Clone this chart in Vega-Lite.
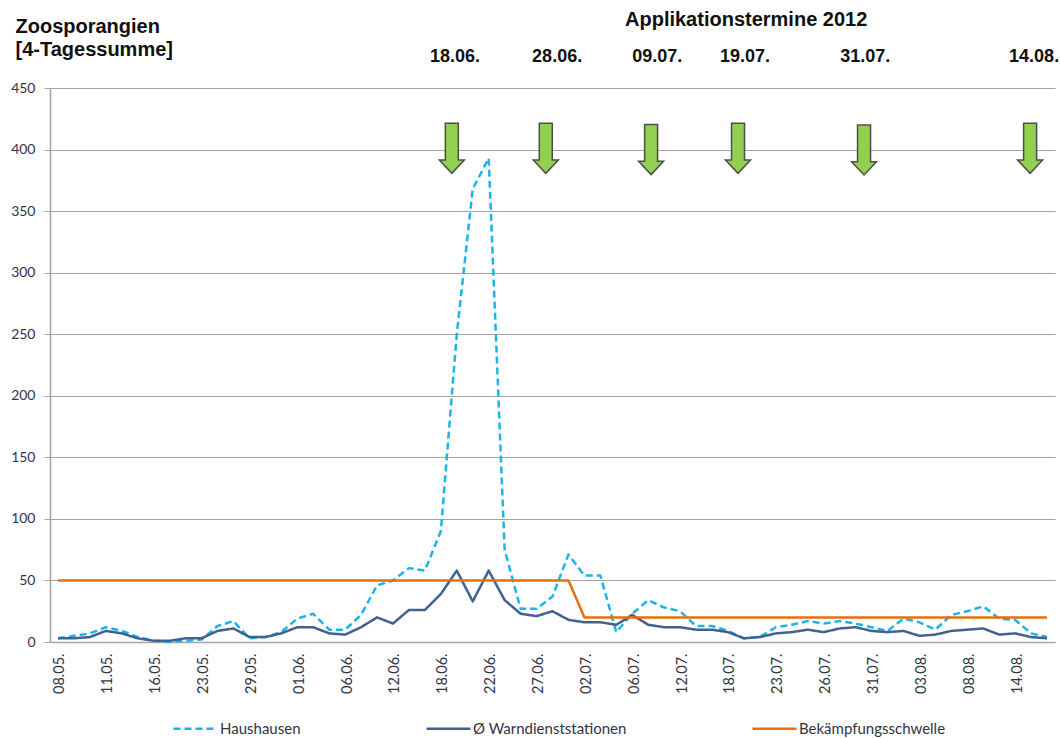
{
"$schema":"https://vega.github.io/schema/vega-lite/v6.json",
"width":1005,"height":554,
"autosize":"none",
"padding":{"left":50,"top":88,"right":5,"bottom":96},
"background":"white",
"title":{"text":"Applikationstermine 2012","anchor":"start","frame":"group","dx":575,"dy":14,"offset":0,"font":"Liberation Sans","fontSize":20,"fontWeight":"bold","color":"#111111"},
"datasets":{
"s":[
{"d":"08.05.","h":3,"w":3,"b":50},{"d":"09.05.","h":5,"w":3,"b":50},{"d":"10.05.","h":7,"w":4,"b":50},{"d":"11.05.","h":12,"w":9,"b":50},{"d":"14.05.","h":9,"w":7,"b":50},{"d":"15.05.","h":4,"w":3,"b":50},{"d":"16.05.","h":1,"w":1,"b":50},{"d":"18.05.","h":0,"w":1,"b":50},{"d":"21.05.","h":1,"w":3,"b":50},{"d":"23.05.","h":2,"w":3,"b":50},{"d":"24.05.","h":13,"w":9,"b":50},{"d":"25.05.","h":17,"w":11,"b":50},{"d":"29.05.","h":3,"w":4,"b":50},{"d":"30.05.","h":4,"w":4,"b":50},{"d":"31.05.","h":8,"w":7,"b":50},{"d":"01.06.","h":19,"w":12,"b":50},{"d":"04.06.","h":23,"w":12,"b":50},{"d":"05.06.","h":10,"w":7,"b":50},{"d":"06.06.","h":10,"w":6,"b":50},{"d":"08.06.","h":22,"w":12,"b":50},{"d":"11.06.","h":46,"w":20,"b":50},{"d":"12.06.","h":50,"w":15,"b":50},{"d":"13.06.","h":60,"w":26,"b":50},{"d":"15.06.","h":58,"w":26,"b":50},{"d":"18.06.","h":90,"w":39,"b":50},{"d":"19.06.","h":250,"w":58,"b":50},{"d":"20.06.","h":368,"w":33,"b":50},{"d":"22.06.","h":393,"w":58,"b":50},{"d":"25.06.","h":75,"w":34,"b":50},{"d":"26.06.","h":27,"w":23,"b":50},{"d":"27.06.","h":27,"w":21,"b":50},{"d":"28.06.","h":37,"w":25,"b":50},{"d":"29.06.","h":71,"w":18,"b":50},{"d":"02.07.","h":54,"w":16,"b":20},{"d":"03.07.","h":54,"w":16,"b":20},{"d":"05.07.","h":8,"w":14,"b":20},{"d":"06.07.","h":23,"w":22,"b":20},{"d":"09.07.","h":34,"w":14,"b":20},{"d":"10.07.","h":28,"w":12,"b":20},{"d":"12.07.","h":25,"w":12,"b":20},{"d":"13.07.","h":13,"w":10,"b":20},{"d":"16.07.","h":13,"w":10,"b":20},{"d":"18.07.","h":9,"w":8,"b":20},{"d":"19.07.","h":3,"w":3,"b":20},{"d":"20.07.","h":4,"w":4,"b":20},{"d":"23.07.","h":12,"w":7,"b":20},{"d":"24.07.","h":14,"w":8,"b":20},{"d":"25.07.","h":17,"w":10,"b":20},{"d":"26.07.","h":15,"w":8,"b":20},{"d":"27.07.","h":17,"w":11,"b":20},{"d":"30.07.","h":15,"w":12,"b":20},{"d":"31.07.","h":12,"w":9,"b":20},{"d":"01.08.","h":9,"w":8,"b":20},{"d":"02.08.","h":19,"w":9,"b":20},{"d":"03.08.","h":16,"w":5,"b":20},{"d":"06.08.","h":10,"w":6,"b":20},{"d":"07.08.","h":22,"w":9,"b":20},{"d":"08.08.","h":25,"w":10,"b":20},{"d":"09.08.","h":29,"w":11,"b":20},{"d":"13.08.","h":19,"w":6,"b":20},{"d":"14.08.","h":18,"w":7,"b":20},{"d":"15.08.","h":7,"w":4,"b":20},{"d":"16.08.","h":4,"w":3,"b":20}
],
"arrows":[{"pos":24.69,"v":401},{"pos":30.58,"v":401},{"pos":37.18,"v":400},{"pos":42.63,"v":401},{"pos":50.53,"v":399.7},{"pos":60.94,"v":401}],
"dates":[{"pos":24.89,"v":475,"t":"18.06."},{"pos":31.29,"v":475,"t":"28.06."},{"pos":37.56,"v":475,"t":"09.07."},{"pos":43.07,"v":475,"t":"19.07."},{"pos":50.6,"v":475,"t":"31.07."},{"pos":61.19,"v":475,"t":"14.08."}]
},
"layer":[
{
"data":{"name":"s"},
"transform":[{"fold":["h","w","b"],"as":["k","value"]},
{"lookup":"k","from":{"data":{"values":[{"k":"h","series":"Haushausen"},{"k":"w","series":"Ø Warndienststationen"},{"k":"b","series":"Bekämpfungsschwelle"}]},"key":"k","fields":["series"]}}],
"mark":{"type":"line","strokeWidth":2.5,"strokeJoin":"round","clip":false},
"encoding":{
"x":{"field":"d","type":"ordinal","sort":null,"scale":{"type":"point","padding":0.5},
"axis":{"title":null,"values":["08.05.","11.05.","16.05.","23.05.","29.05.","01.06.","06.06.","12.06.","18.06.","22.06.","27.06.","02.07.","06.07.","12.07.","18.07.","23.07.","26.07.","31.07.","03.08.","08.08.","14.08."],"labelAngle":-90,"labelFont":"Lato","labelFontSize":14.5,"labelColor":"#333344","labelPadding":11,"labelOffset":2,"ticks":false,"domainColor":"#a6a6a6","domainWidth":1.6,"grid":false}},
"y":{"field":"value","type":"quantitative","scale":{"domain":[0,450],"nice":false},
"axis":{"title":["Zoosporangien","[4-Tagessumme]"],"titleAngle":0,"titleAlign":"left","titleBaseline":"top","titleX":-35,"titleY":-72,"titleFont":"Liberation Sans","titleFontSize":20,"titleFontWeight":"bold","titleColor":"#111111","titleLineHeight":23,"values":[0,50,100,150,200,250,300,350,400,450],"labelFont":"Lato","labelFontSize":14,"labelColor":"#333344","labelPadding":9,"tickColor":"#a6a6a6","tickSize":6,"domainColor":"#a6a6a6","domainWidth":1.6,"grid":true,"gridColor":"#a3a3a3","gridWidth":1.2}},
"color":{"field":"series","type":"nominal","scale":{"domain":["Haushausen","Ø Warndienststationen","Bekämpfungsschwelle"],"range":["#1ab4ea","#41618f","#e66e0c"]},"legend":{"title":null}},
"strokeDash":{"field":"series","type":"nominal","scale":{"domain":["Haushausen","Ø Warndienststationen","Bekämpfungsschwelle"],"range":[[7,4],[1,0],[1,0]]},"legend":{"title":null}},
"order":{"field":"k","type":"nominal"}
}
},
{
"data":{"name":"arrows"},
"mark":{"type":"point","filled":true,"opacity":1,"size":2500,"fill":"#92d050","stroke":"#4d4d4d","strokeWidth":1.5,"shape":"M -0.26 -1 L 0.26 -1 L 0.26 0.47 L 0.5 0.47 L 0 1 L -0.5 0.47 L -0.26 0.47 Z"},
"encoding":{
"x":{"field":"pos","type":"quantitative","scale":{"domain":[-0.5,62.5],"nice":false,"zero":false},"axis":null},
"y":{"field":"v","type":"quantitative"}
}
},
{
"data":{"name":"dates"},
"mark":{"type":"text","font":"Liberation Sans","fontSize":18,"fontWeight":"bold","color":"#111111","clip":false},
"encoding":{
"x":{"field":"pos","type":"quantitative","scale":{"domain":[-0.5,62.5],"nice":false,"zero":false},"axis":null},
"y":{"field":"v","type":"quantitative"},
"text":{"field":"t"}
}
}
],
"resolve":{"scale":{"x":"independent"}},
"config":{"view":{"stroke":null},
"legend":{"orient":"none","legendX":122,"legendY":617,"direction":"horizontal","columns":3,"columnPadding":120,"symbolType":"stroke","symbolSize":1936,"symbolStrokeWidth":2.5,"labelFont":"Lato","labelFontSize":15,"labelColor":"#333344","labelOffset":1}}
}
